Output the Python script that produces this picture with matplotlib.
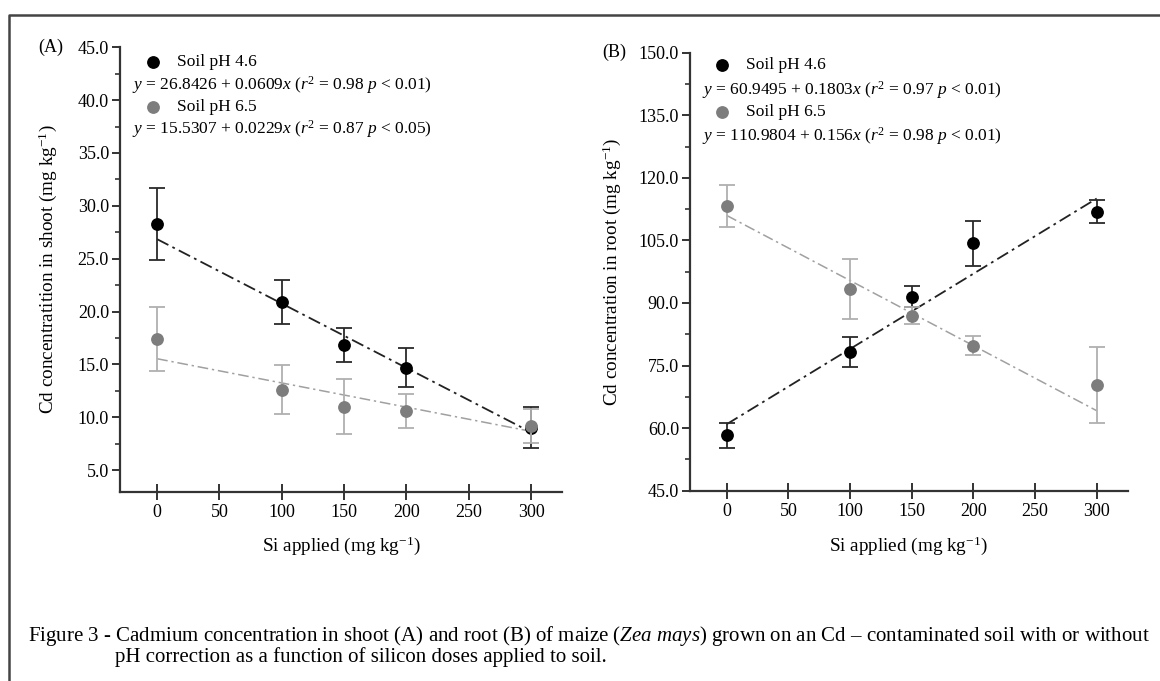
import matplotlib
matplotlib.use("Agg")
import matplotlib.pyplot as plt
from matplotlib.lines import Line2D
from matplotlib.ticker import MultipleLocator, FormatStrFormatter
import numpy as np

plt.rcParams['font.family'] = ['Liberation Serif', 'DejaVu Serif']
plt.rcParams['mathtext.fontset'] = 'custom'
plt.rcParams['mathtext.rm'] = 'Liberation Serif'
plt.rcParams['mathtext.it'] = 'Liberation Serif:italic'
plt.rcParams['mathtext.bf'] = 'Liberation Serif:bold'

# ---------------- data ----------------
si_doses = [0, 100, 150, 200, 300]
xticks = [0, 50, 100, 150, 200, 250, 300]

shoot_ph46 = [28.3, 20.9, 16.8, 14.7, 9.0]
shoot_ph46_err = [3.4, 2.1, 1.6, 1.8, 1.95]
shoot_ph65 = [17.4, 12.6, 11.0, 10.6, 9.2]
shoot_ph65_err = [3.0, 2.3, 2.6, 1.6, 1.6]

root_ph46 = [58.3, 78.2, 91.5, 104.3, 111.9]
root_ph46_err = [3.0, 3.6, 2.5, 5.4, 2.8]
root_ph65 = [113.2, 93.4, 87.0, 79.8, 70.3]
root_ph65_err = [5.0, 7.2, 2.0, 2.3, 9.1]

# regression (intercept, slope)
shoot_fit46 = (26.8426, -0.0609)
shoot_fit65 = (15.5307, -0.0229)
root_fit46 = (60.9495, 0.1803)
root_fit65 = (110.9804, -0.156)

shoot_eq46 = r'$y$ = 26.8426 + 0.0609$x$ ($r^2$ = 0.98 $p$ < 0.01)'
shoot_eq65 = r'$y$ = 15.5307 + 0.0229$x$ ($r^2$ = 0.87 $p$ < 0.05)'
root_eq46 = r'$y$ = 60.9495 + 0.1803$x$ ($r^2$ = 0.97 $p$ < 0.01)'
root_eq65 = r'$y$ = 110.9804 + 0.156$x$ ($r^2$ = 0.98 $p$ < 0.01)'

W, H = 1160, 681
fig = plt.figure(figsize=(W / 100, H / 100), dpi=100)
fig.patch.set_facecolor('white')


def fx(x):
    return x / W


def fy(y):
    return 1 - y / H


def axes_px(left, top, right, bottom):
    return [fx(left), fy(bottom), fx(right) - fx(left), fy(top) - fy(bottom)]


axA = fig.add_axes(axes_px(120, 47.3, 562.3, 491.7))
axB = fig.add_axes(axes_px(690, 52.7, 1127.5, 490.7))

BLACK = '#000000'
GRAY = '#7d7d7d'
SPINE = '#333333'


def draw_panel(ax, y46, e46, y65, e65, fit46, fit65, ylim, ymajor, yminor):
    xs = np.array([0, 300])
    ax.plot(xs, fit46[0] + fit46[1] * xs, color='#222222', lw=1.3,
            ls=(0, (7, 2.5, 1.5, 2.5)), zorder=2)
    ax.plot(xs, fit65[0] + fit65[1] * xs, color='#a0a0a0', lw=1.1,
            ls=(0, (7, 2.5, 1.5, 2.5)), zorder=2)
    ax.errorbar(si_doses, y46, yerr=e46, fmt='o', color=BLACK, ecolor='#2a2a2a',
                ms=8.2, elinewidth=1.3, capsize=6, capthick=1.3, zorder=3)
    ax.errorbar(si_doses, y65, yerr=e65, fmt='o', color=GRAY, ecolor='#b0b0b0',
                ms=8.2, elinewidth=1.3, capsize=6, capthick=1.3, zorder=4)
    ax.set_xlim(-29.8, 325)
    ax.set_ylim(*ylim)
    ax.set_xticks(xticks)
    ax.yaxis.set_major_locator(MultipleLocator(ymajor))
    ax.yaxis.set_minor_locator(MultipleLocator(yminor))
    ax.yaxis.set_major_formatter(FormatStrFormatter('%.1f'))
    for s in ['top', 'right']:
        ax.spines[s].set_visible(False)
    for s in ['left', 'bottom']:
        ax.spines[s].set_linewidth(1.6)
        ax.spines[s].set_color(SPINE)
    ax.tick_params(axis='x', direction='inout', length=12, width=1.4,
                   colors=SPINE, labelcolor='black', labelsize=13, pad=3)
    ax.tick_params(axis='y', which='major', direction='out', length=6,
                   width=1.4, colors=SPINE, labelcolor='black', labelsize=13, pad=2)
    ax.tick_params(axis='y', which='minor', direction='out', length=3.5,
                   width=1.2, colors=SPINE)
    ax.set_facecolor('none')


draw_panel(axA, shoot_ph46, shoot_ph46_err, shoot_ph65, shoot_ph65_err,
           shoot_fit46, shoot_fit65, (2.95, 45.0), 5, 2.5)
draw_panel(axB, root_ph46, root_ph46_err, root_ph65, root_ph65_err,
           root_fit46, root_fit65, (45.0, 150.0), 15, 7.5)

# axis labels
LBL = 13.8
axA.set_xlabel(r'Si applied (mg kg$^{-1}$)', fontsize=LBL)
axB.set_xlabel(r'Si applied (mg kg$^{-1}$)', fontsize=LBL)
axA.set_ylabel(r'Cd concentratition in shoot (mg kg$^{-1}$)', fontsize=LBL)
axB.set_ylabel(r'Cd concentration in root (mg kg$^{-1}$)', fontsize=LBL)
for ax, top, bot, left, right, ylx in [(axA, 47.3, 491.7, 120, 562.3, 48),
                                       (axB, 52.7, 490.7, 690, 1127.5, 611.4)]:
    h = bot - top
    w = right - left
    ax.xaxis.set_label_coords(0.5, (bot - 546) / h)
    ax.xaxis.label.set_va('center')
    ax.yaxis.set_label_coords((ylx - left) / w, 0.5)
    ax.yaxis.label.set_va('center')

# panel letters
fig.text(fx(38), fy(47.3), '(A)', fontsize=13, ha='left', va='center')
fig.text(fx(602), fy(52.7), '(B)', fontsize=13, ha='left', va='center')


# legend-like annotations
def legend_block(mx, my1, my2, tx, ex, ey1, ey2, eq1, eq2):
    for my, col in [(my1, BLACK), (my2, GRAY)]:
        fig.add_artist(Line2D([fx(mx)], [fy(my)], marker='o', ms=8.2, color=col,
                              transform=fig.transFigure, ls='none'))
    fig.text(fx(tx), fy(my1), 'Soil pH 4.6', fontsize=12.5, ha='left', va='center')
    fig.text(fx(tx), fy(my2), 'Soil pH 6.5', fontsize=12.5, ha='left', va='center')
    fig.text(fx(ex), fy(ey1), eq1, fontsize=12.5, ha='left', va='center')
    fig.text(fx(ex), fy(ey2), eq2, fontsize=12.5, ha='left', va='center')


legend_block(153.3, 61.7, 106.7, 177.3, 131.7, 85.5, 129.5, shoot_eq46, shoot_eq65)
legend_block(722.4, 65.0, 111.7, 746.5, 702.0, 90.0, 136.0, root_eq46, root_eq65)

# caption
CAP = 15.05
fig.text(fx(28), fy(636),
         r'Figure 3 - Cadmium concentration in shoot (A) and root (B) of maize ($\mathit{Zea\ mays}$) '
         r'grown on an Cd – contaminated soil with or without',
         fontsize=CAP, ha='left', va='center')
fig.text(fx(115), fy(657),
         'pH correction as a function of silicon doses applied to soil.',
         fontsize=CAP, ha='left', va='center')

# border (left and top edges visible)
fig.add_artist(Line2D([fx(9), fx(9), fx(1165)], [fy(690), fy(15), fy(15)],
                      color='#444444', lw=1.8, transform=fig.transFigure))

fig.savefig('out.png', dpi=100, facecolor='white')
